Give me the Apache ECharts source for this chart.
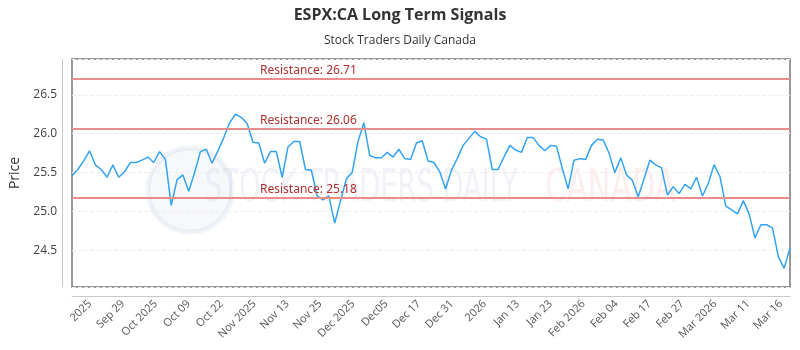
<!DOCTYPE html>
<html lang="en">
<head>
    <meta charset="UTF-8">
    <title>ESPX:CA Long Term Signals</title>
    <style>
        html, body {margin: 0; padding: 0; background: #fff;}
        #main {width: 800px; height: 350px;}
    </style>
</head>
<body>
<div id="main"></div>
<script src="https://cdn.jsdelivr.net/npm/echarts@6/dist/echarts.min.js"></script>
<script type="text/javascript">
// closing prices, one per trading day
var prices = [
    25.46, 25.54, 25.65, 25.78, 25.60, 25.54, 25.44, 25.60, 25.44, 25.51,
    25.63, 25.63, 25.66, 25.70, 25.63, 25.77, 25.67, 25.08, 25.41, 25.47,
    25.26, 25.50, 25.77, 25.80, 25.62, 25.78, 25.95, 26.14, 26.25, 26.21,
    26.13, 25.89, 25.88, 25.62, 25.77, 25.77, 25.44, 25.83, 25.90, 25.90,
    25.54, 25.53, 25.20, 25.15, 25.20, 24.85, 25.14, 25.42, 25.50, 25.90,
    26.14, 25.72, 25.69, 25.69, 25.76, 25.70, 25.80, 25.68, 25.67, 25.88,
    25.91, 25.65, 25.63, 25.51, 25.29, 25.53, 25.68, 25.85, 25.94, 26.03,
    25.96, 25.93, 25.54, 25.54, 25.70, 25.85, 25.79, 25.76, 25.95, 25.95,
    25.85, 25.78, 25.85, 25.84, 25.55, 25.29, 25.66, 25.68, 25.67, 25.85,
    25.93, 25.92, 25.75, 25.50, 25.69, 25.47, 25.40, 25.19, 25.42, 25.66,
    25.60, 25.56, 25.21, 25.32, 25.23, 25.35, 25.29, 25.44, 25.20, 25.36,
    25.60, 25.45, 25.07, 25.02, 24.97, 25.14, 24.97, 24.66, 24.83, 24.83,
    24.79, 24.42, 24.27, 24.53
];
// resistance levels
var resistance = [26.71, 26.06, 25.18];
// x axis tick labels
var tickLabels = ['2025', 'Sep 29', 'Oct 2025', 'Oct 09', 'Oct 22', 'Nov 2025', 'Nov 13', 'Nov 25',
    'Dec 2025', 'Dec05', 'Dec 17', 'Dec 31', '2026', 'Jan 13', 'Jan 23', 'Feb 2026',
    'Feb 04', 'Feb 17', 'Feb 27', 'Mar 2026', 'Mar 11', 'Mar 16'];

var days = prices.map(function (p, i) { return String(i + 1); });

// label axis: 241 slots, a label every 11 slots starting at slot 6
var labelSlots = [];
for (var i = 0; i < 241; i++) labelSlots.push('');
tickLabels.forEach(function (t, k) { labelSlots[6 + 11 * k] = t; });

var chart = echarts.init(document.getElementById('main'));
chart.setOption({
    animation: false,
    textStyle: {fontFamily: 'Open Sans'},
    title: {
        text: 'ESPX:CA Long Term Signals',
        subtext: 'Stock Traders Daily Canada',
        left: 'center',
        top: 2,
        itemGap: 12,
        textStyle: {fontSize: 16, fontWeight: 'bold', color: '#333', fontFamily: 'Open Sans'},
        subtextStyle: {fontSize: 12, color: '#333', fontFamily: 'Open Sans'}
    },
    grid: {
        left: 70, right: 10, top: 59, bottom: 63,
        show: true, borderColor: '#777', borderWidth: 1.5, backgroundColor: 'transparent'
    },
    // faint watermark
    graphic: [
        {type: 'circle', shape: {cx: 190, cy: 190, r: 42}, silent: true, z: -1,
            style: {fill: 'rgba(220,226,238,0.25)', stroke: 'rgba(205,214,230,0.3)', lineWidth: 5}},
        {type: 'text', x: 205, y: 168, scaleX: 0.62, silent: true, z: -1,
            style: {text: 'STOCK TRADERS DAILY', font: '44px "DejaVu Sans"', fill: 'rgba(200,210,228,0.28)'}},
        {type: 'text', x: 545, y: 168, scaleX: 0.7, silent: true, z: -1,
            style: {text: 'CANADA', font: '44px "DejaVu Sans"', fill: 'rgba(240,160,160,0.18)'}}
    ],
    xAxis: [
        {
            type: 'category',
            data: days,
            boundaryGap: false,
            axisLine: {show: false},
            axisTick: {show: false},
            axisLabel: {show: false},
            splitLine: {show: false}
        },
        {
            type: 'category',
            data: labelSlots,
            position: 'bottom',
            offset: 9,
            boundaryGap: false,
            axisLine: {lineStyle: {color: '#c8c8c8'}},
            axisTick: {show: false},
            axisLabel: {interval: 0, rotate: 45, fontSize: 11, color: '#555', margin: 6},
            splitLine: {show: false}
        }
    ],
    yAxis: {
        type: 'value',
        min: 24.03,
        max: 26.96,
        offset: 10,
        name: 'Price',
        nameLocation: 'middle',
        nameGap: 40,
        nameTextStyle: {fontSize: 14, color: '#333'},
        axisLine: {show: true, lineStyle: {color: '#c8c8c8'}},
        axisTick: {show: false},
        axisLabel: {
            fontSize: 12, color: '#444', margin: 5,
            formatter: function (v) {
                return Math.abs(v * 2 - Math.round(v * 2)) < 1e-6 ? v.toFixed(1) : '';
            }
        },
        splitLine: {lineStyle: {color: '#eee', type: 'dashed'}}
    },
    series: [{
        type: 'line',
        data: prices,
        xAxisIndex: 0,
        showSymbol: false,
        lineStyle: {color: '#33a3f4', width: 1.5},
        markLine: {
            silent: true,
            symbol: 'none',
            lineStyle: {color: '#e98c8c', width: 2, type: 'solid'},
            label: {
                position: 'insideStartTop',
                distance: [188, 2],
                formatter: 'Resistance: {c}',
                color: '#b03030',
                fontSize: 12,
                fontFamily: 'Noto Sans'
            },
            data: resistance.map(function (r) { return {yAxis: r}; })
        }
    }]
});
</script>
</body>
</html>
